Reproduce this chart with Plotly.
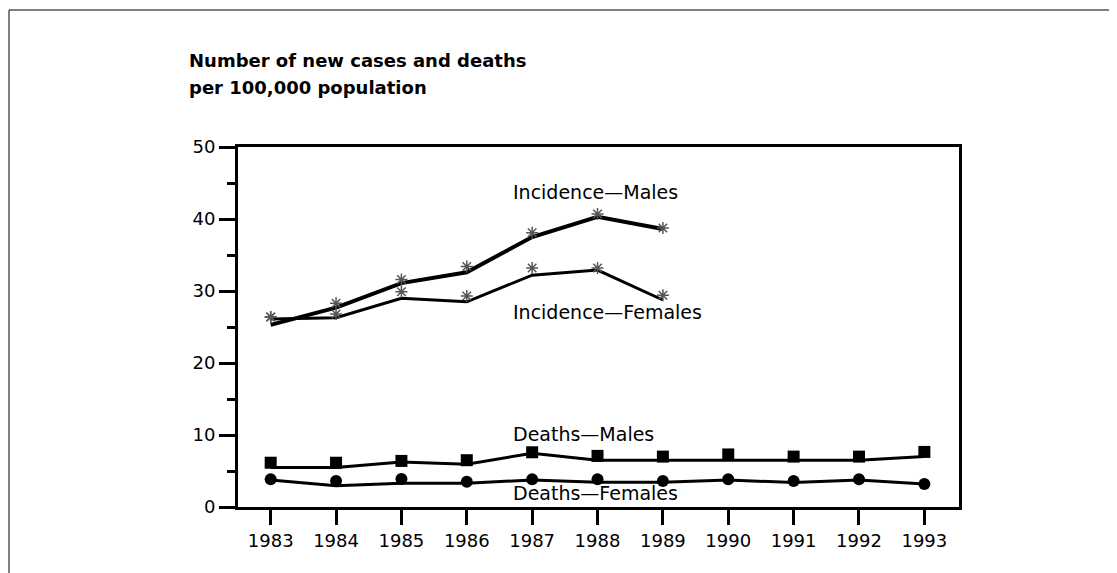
import plotly.graph_objects as go

years = list(range(1983, 1994))
inc_years = years[:7]

# incidence lines and their asterisk markers
inc_males_line = [25.3, 27.7, 31.1, 32.6, 37.5, 40.3, 38.6]
inc_males_pts = [26.4, 28.3, 31.6, 33.4, 38.1, 40.7, 38.75]
inc_fem_line = [26.1, 26.3, 29.0, 28.5, 32.2, 32.9, 28.75]
inc_fem_pts = [26.4, 26.8, 29.9, 29.3, 33.2, 33.2, 29.4]

# deaths lines and markers
death_males_line = [5.5, 5.5, 6.25, 5.95, 7.45, 6.5, 6.5, 6.5, 6.5, 6.5, 7.0]
death_males_pts = [6.15, 6.15, 6.4, 6.5, 7.6, 7.1, 7.0, 7.3, 7.0, 7.0, 7.65]
death_fem_line = [3.75, 2.95, 3.3, 3.3, 3.75, 3.45, 3.45, 3.75, 3.4, 3.75, 3.2]
death_fem_pts = [3.85, 3.6, 3.9, 3.5, 3.85, 3.85, 3.6, 3.85, 3.6, 3.85, 3.2]

labels = ["Incidence\u2014Males", "Incidence\u2014Females", "Deaths\u2014Males", "Deaths\u2014Females"]
label_x = [1986.67, 1986.67, 1986.67, 1986.67]
label_y = [43.75, 27.1, 10.1, 1.95]

title_lines = ["Number of new cases and deaths", "per 100,000 population"]

FONT = "DejaVu Sans, Verdana, sans-serif"

fig = go.Figure()

fig.add_trace(go.Scatter(x=inc_years, y=inc_males_line, mode="lines",
                         line=dict(color="black", width=4)))
fig.add_trace(go.Scatter(x=inc_years, y=inc_fem_line, mode="lines",
                         line=dict(color="black", width=3)))
fig.add_trace(go.Scatter(x=inc_years, y=inc_males_pts, mode="markers",
                         marker=dict(symbol="asterisk-open", size=10, color="#555",
                                     line=dict(color="#555", width=1.5))))
fig.add_trace(go.Scatter(x=inc_years, y=inc_fem_pts, mode="markers",
                         marker=dict(symbol="asterisk-open", size=10, color="#555",
                                     line=dict(color="#555", width=1.5))))

fig.add_trace(go.Scatter(x=years, y=death_males_line, mode="lines",
                         line=dict(color="black", width=3)))
fig.add_trace(go.Scatter(x=years, y=death_fem_line, mode="lines",
                         line=dict(color="black", width=3)))
fig.add_trace(go.Scatter(x=years, y=death_males_pts, mode="markers",
                         marker=dict(symbol="square", size=12, color="black")))
fig.add_trace(go.Scatter(x=years, y=death_fem_pts, mode="markers",
                         marker=dict(symbol="circle", size=12, color="black")))

for t, x, y in zip(labels, label_x, label_y):
    fig.add_annotation(x=x, y=y, text=t, showarrow=False, xanchor="left",
                       yanchor="middle", font=dict(family=FONT, size=19, color="black"))

# two-line heading, placed separately for the wider line gap
for t, y in zip(title_lines, [1.2389, 1.1639]):
    fig.add_annotation(xref="paper", yref="paper", x=-0.0707, y=y, text="<b>" + t + "</b>",
                       showarrow=False, xanchor="left", yanchor="middle",
                       font=dict(family=FONT, size=18, color="black"))

# thin page frame, top and left
fig.add_shape(type="line", xref="paper", yref="paper", x0=-0.3176, x1=1.3, y0=1.3806, y1=1.3806,
              line=dict(color="#555", width=1.5))
fig.add_shape(type="line", xref="paper", yref="paper", x0=-0.3176, x1=-0.3176, y0=1.3806, y1=-0.2,
              line=dict(color="#555", width=1.5))

# page body adds 8px, so the figure is sized 8px smaller
fig.update_layout(
    width=1109, height=565, autosize=False,
    margin=dict(l=230, r=158, t=139, b=66),
    plot_bgcolor="white", paper_bgcolor="white",
    showlegend=False,
    font=dict(family=FONT, color="black"),
)

fig.update_xaxes(range=[1982.5, 1993.53], tickmode="array", tickvals=years,
                 ticktext=[str(y) for y in years], ticks="outside", ticklen=15,
                 tickwidth=2.5, tickcolor="black", showgrid=False, zeroline=False,
                 showline=True, linecolor="black", linewidth=3, mirror=True,
                 tickfont=dict(size=18))
fig.update_yaxes(range=[0, 50], dtick=10, ticks="outside", ticklen=16, tickwidth=2.5,
                 tickcolor="black", showgrid=False, zeroline=False,
                 showline=True, linecolor="black", linewidth=3, mirror=True,
                 tickfont=dict(size=18),
                 minor=dict(dtick=5, ticks="outside", ticklen=8, tickwidth=2.5,
                            tickcolor="black", showgrid=False))

fig.write_html("out.html")
